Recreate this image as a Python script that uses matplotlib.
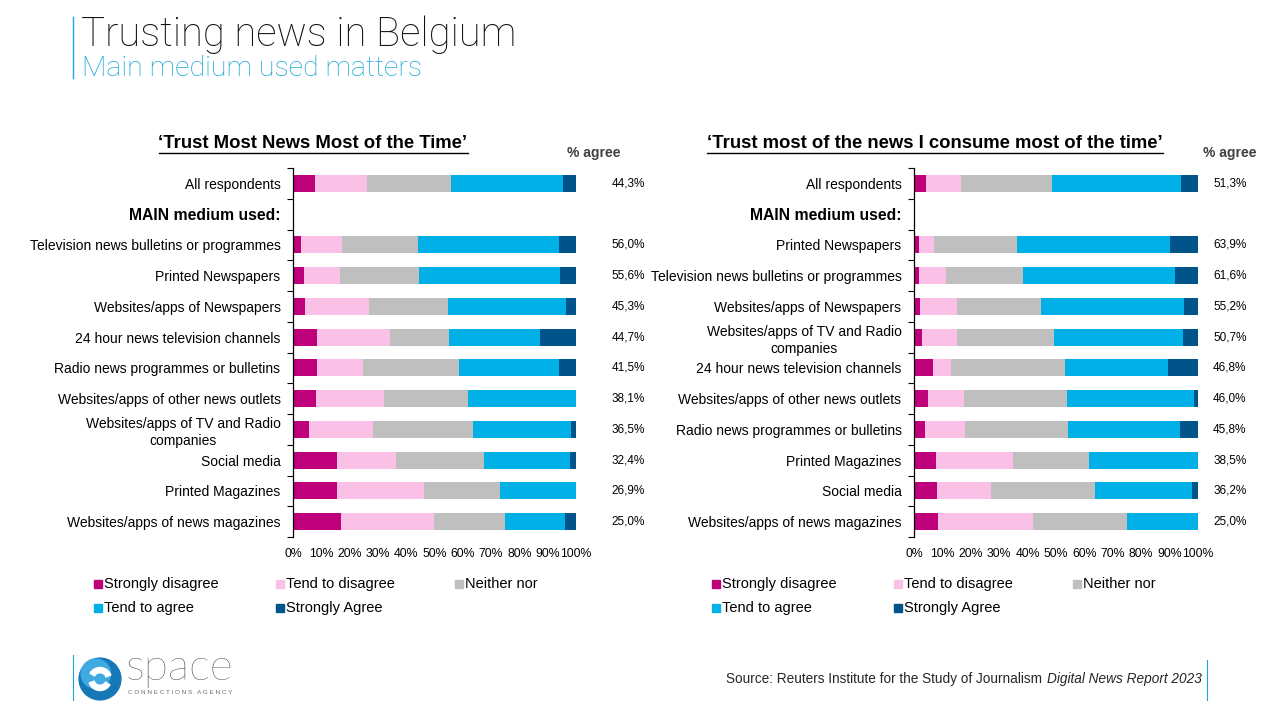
import matplotlib.pyplot as plt
from matplotlib.patches import Rectangle, Circle, Wedge
import numpy as np

# ---- data ----
segments = ["Strongly disagree", "Tend to disagree", "Neither nor", "Tend to agree", "Strongly Agree"]
colors = ["#BE007B", "#FBC0E6", "#BFBFBF", "#00B0E6", "#00548A"]

left_title = "\u2018Trust Most News Most of the Time\u2019"
left_cats = ["All respondents", "MAIN medium used:",
             "Television news bulletins or programmes", "Printed Newspapers",
             "Websites/apps of Newspapers", "24 hour news television channels",
             "Radio news programmes or bulletins", "Websites/apps of other news outlets",
             "Websites/apps of TV and Radio\ncompanies", "Social media",
             "Printed Magazines", "Websites/apps of news magazines"]
left_sd = [7.6, 0, 2.7, 3.8, 4.1, 8.6, 8.6, 8.0, 5.5, 15.4, 15.4, 16.8]
left_td = [18.4, 0, 14.5, 12.7, 22.9, 25.5, 16.3, 24.0, 22.9, 21.1, 31.0, 33.1]
left_nn = [29.7, 0, 26.8, 27.9, 27.7, 21.2, 33.6, 29.9, 35.1, 31.1, 26.7, 25.1]
left_ta = [39.7, 0, 50.0, 50.0, 41.8, 32.0, 35.5, 38.1, 34.7, 30.3, 26.9, 21.1]
left_sa = [4.6, 0, 6.0, 5.6, 3.5, 12.7, 6.0, 0.0, 1.8, 2.1, 0.0, 3.9]
left_agree = ["44,3%", "", "56,0%", "55,6%", "45,3%", "44,7%", "41,5%",
              "38,1%", "36,5%", "32,4%", "26,9%", "25,0%"]

right_title = "\u2018Trust most of the news I consume most of the time\u2019"
right_cats = ["All respondents", "MAIN medium used:",
              "Printed Newspapers", "Television news bulletins or programmes",
              "Websites/apps of Newspapers", "Websites/apps of TV and Radio\ncompanies",
              "24 hour news television channels", "Websites/apps of other news outlets",
              "Radio news programmes or bulletins", "Printed Magazines",
              "Social media", "Websites/apps of news magazines"]
right_sd = [4.1, 0, 1.6, 1.6, 2.0, 2.7, 6.6, 4.8, 3.8, 7.6, 8.0, 8.4]
right_td = [12.4, 0, 5.3, 9.6, 13.1, 12.4, 6.3, 12.7, 14.1, 27.2, 19.1, 33.5]
right_nn = [32.2, 0, 29.2, 27.2, 29.7, 34.2, 40.3, 36.5, 36.3, 26.7, 36.7, 33.1]
right_ta = [45.4, 0, 54.1, 53.6, 50.4, 45.5, 36.3, 44.7, 39.6, 38.5, 34.2, 25.0]
right_sa = [5.9, 0, 9.8, 8.0, 4.8, 5.2, 10.5, 1.3, 6.2, 0.0, 2.0, 0.0]
right_agree = ["51,3%", "", "63,9%", "61,6%", "55,2%", "50,7%", "46,8%",
               "46,0%", "45,8%", "38,5%", "36,2%", "25,0%"]

W, H = 1280, 720
fig = plt.figure(figsize=(12.8, 7.2), dpi=100)
plt.rcParams['font.family'] = ['Liberation Sans', 'DejaVu Sans']


def px(x, y):
    return x / W, 1 - y / H


def draw_chart(rect, cats, series, agree, title, title_x, agree_x, pct_x):
    ax = fig.add_axes(rect)
    y = np.arange(len(cats))
    left = np.zeros(len(cats))
    for vals, c in zip(series, colors):
        vals = np.array(vals)
        ax.barh(y, vals, left=left, height=0.55, color=c, edgecolor='none')
        left += vals
    ax.set_ylim(len(cats) - 0.5, -0.5)
    ax.set_xlim(0, 100)
    ax.set_yticks(y)
    ax.set_yticklabels(cats, fontsize=10, linespacing=1.3)
    for lab in ax.get_yticklabels():
        lab.set_multialignment('center')
    ax.get_yticklabels()[1].set_fontweight('bold')
    ax.get_yticklabels()[1].set_fontsize(11.3)
    ax.set_yticks(np.arange(len(cats) + 1) - 0.5, minor=True)
    ax.tick_params(axis='y', which='major', length=0, pad=9)
    ax.tick_params(axis='y', which='minor', length=4, width=0.8)
    ax.set_xticks(np.arange(0, 101, 10))
    ax.set_xticklabels([f"{v}%" for v in range(0, 101, 10)], fontsize=8.8)
    ax.tick_params(axis='x', length=0, pad=8)
    for s in ['top', 'right', 'bottom']:
        ax.spines[s].set_visible(False)
    ax.spines['left'].set_linewidth(0.9)
    for yi, lab in zip(y, agree):
        ax.text(pct_x, yi, lab, fontsize=8.5, va='center', ha='left', clip_on=False)
    fig.text(*px(agree_x, 153), "% agree", fontsize=10, fontweight='bold',
             ha='center', va='center', color='#404040')
    t = fig.text(*px(title_x, 143), title, fontsize=13.3, fontweight='bold',
                 ha='center', va='center')
    return ax, t


_, t_left = draw_chart([293 / W, 1 - 537 / H, 283 / W, 369 / H], left_cats,
                       [left_sd, left_td, left_nn, left_ta, left_sa], left_agree,
                       left_title, 313, 594, 112.5)
_, t_right = draw_chart([914 / W, 1 - 537 / H, 284 / W, 369 / H], right_cats,
                        [right_sd, right_td, right_nn, right_ta, right_sa], right_agree,
                        right_title, 935, 1230, 105.3)

# underline titles
fig.canvas.draw()
for t in [t_left, t_right]:
    bb = t.get_window_extent()
    fig.add_artist(plt.Line2D([bb.x0 / W, bb.x1 / W], [1 - 153 / H] * 2, color='black', lw=1))


# legends
def draw_legend(x0):
    pos = [(x0, 584), (x0 + 182, 584), (x0 + 361, 584), (x0, 608), (x0 + 182, 608)]
    for (lx, ly), lab, c in zip(pos, segments, colors):
        fig.add_artist(Rectangle(px(lx - 4, ly + 4), 8 / W, 8 / H, color=c,
                                 transform=fig.transFigure))
        fig.text(*px(lx + 6, ly), lab, fontsize=10.5, va='center', ha='left')


draw_legend(98)
draw_legend(716)

# header
fig.add_artist(plt.Line2D([73 / W] * 2, [1 - 17 / H, 1 - 78 / H], color='#1BA6D9', lw=1))
fig.text(*px(81, 35), "Trusting news in Belgium", fontsize=28.8, family=['Roboto', 'DejaVu Sans'],
         fontweight='light', va='center', ha='left', color='#111111')
fig.text(*px(82, 69), "Main medium used matters", fontsize=20.5, family=['Roboto', 'DejaVu Sans'],
         fontweight='light', va='center', ha='left', color='#1BA6D9')

# footer logo
fig.add_artist(plt.Line2D([73 / W] * 2, [1 - 655 / H, 1 - 700 / H], color='#1BA6D9', lw=0.8))
lax = fig.add_axes([78 / W, 1 - 702 / H, 44 / W, 46 / H])
lax.set_xlim(-1.05, 1.05)
lax.set_ylim(-1.1, 1.1)
lax.set_aspect('equal')
lax.axis('off')
lax.add_patch(Circle((0, 0), 1, color='#1778B8'))
lax.add_patch(Circle((-0.2, 0.25), 0.7, color='#3FA9E0'))
lax.add_patch(Wedge((0, 0), 0.55, 200, 330, width=0.25, color='white'))
lax.add_patch(Wedge((0, 0), 0.55, 20, 150, width=0.25, color='white'))
fig.text(*px(126, 668), "space", fontsize=32, family=['Lato', 'DejaVu Sans'],
         fontweight='light', color='#2a2a2a', va='center', ha='left')
fig.text(*px(128, 693), "C O N N E C T I O N S   A G E N C Y", fontsize=4.6,
         color='#6b6b6b', va='center', ha='left')

# source
fig.add_artist(plt.Line2D([1207 / W] * 2, [1 - 660 / H, 1 - 700 / H], color='#1BA6D9', lw=0.8))
t1 = fig.text(*px(1202, 679), "Digital News Report 2023", fontsize=9.8, style='italic',
              va='center', ha='right', color='#262626')
fig.canvas.draw()
bb = t1.get_window_extent()
fig.text(bb.x0 / W - 1 / W, 1 - 679 / H, "Source: Reuters Institute for the Study of Journalism ",
         fontsize=9.8, va='center', ha='right', color='#262626')

fig.savefig("out.png", dpi=100)
